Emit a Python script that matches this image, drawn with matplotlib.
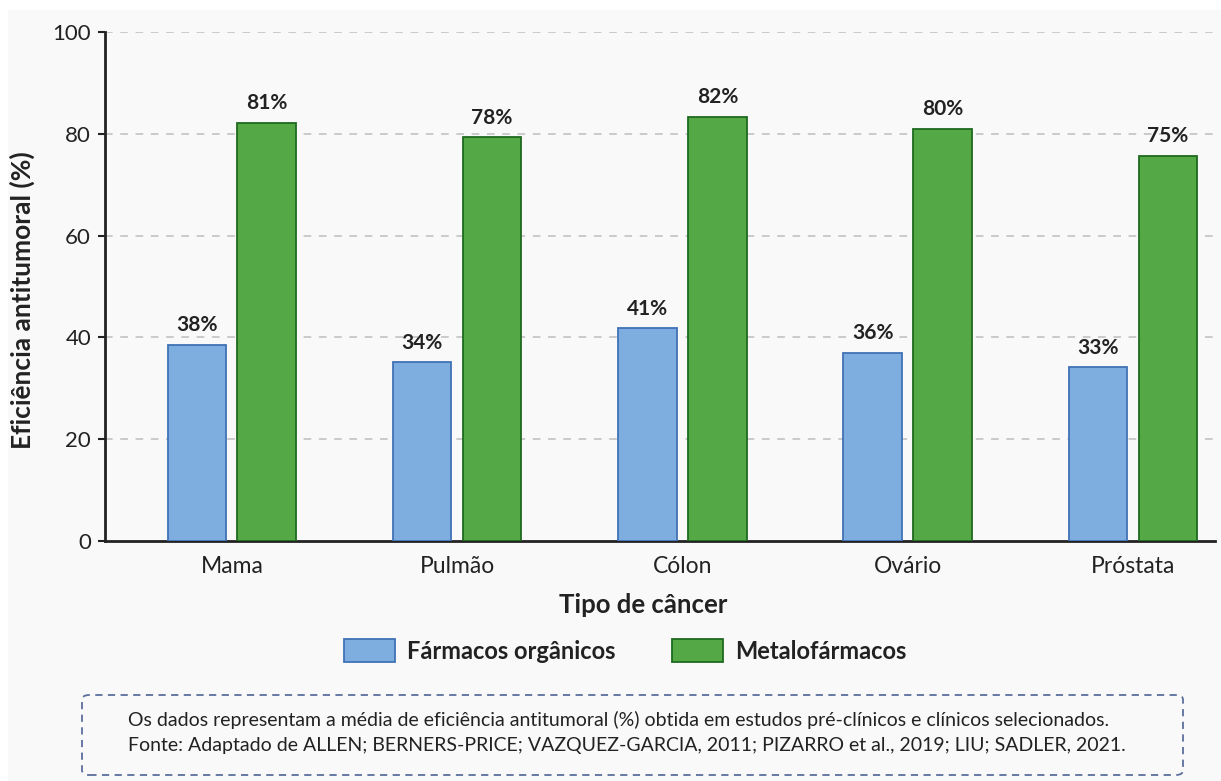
import numpy as np
import matplotlib.pyplot as plt
from matplotlib.patches import Patch, FancyBboxPatch, Rectangle

# Dados (alturas lidas das barras; rótulos como aparecem no gráfico)
tipos = ["Mama", "Pulmão", "Cólon", "Ovário", "Próstata"]
organicos = [38.5, 35.1, 41.8, 36.9, 34.1]
metalofarmacos = [82.1, 79.3, 83.3, 80.9, 75.6]
rotulos_org = ["38%", "34%", "41%", "36%", "33%"]
rotulos_met = ["81%", "78%", "82%", "80%", "75%"]
serie_nomes = ["Fármacos orgânicos", "Metalofármacos"]
y_ticks = [0, 20, 40, 60, 80, 100]
nota = ["Os dados representam a média de eficiência antitumoral (%) obtida em estudos pré-clínicos e clínicos selecionados.",
        "Fonte: Adaptado de ALLEN; BERNERS-PRICE; VAZQUEZ-GARCIA, 2011; PIZARRO et al., 2019; LIU; SADLER, 2021."]

plt.rcParams['font.family'] = ['Lato', 'DejaVu Sans']

azul, azul_borda = '#7eaee0', '#3f72b5'
verde, verde_borda = '#55a846', '#1f6a1f'
fundo = '#f9f9f9'

fig = plt.figure(figsize=(12.21, 7.81), dpi=100, facecolor='white')
fig.patches.append(Rectangle((8/1221, 0), 1, 1 - 10/781, transform=fig.transFigure,
                             facecolor=fundo, edgecolor='none', zorder=-10))
ax = fig.add_axes([105/1221, 1 - 541/781, 1110/1221, 509/781])
ax.set_facecolor(fundo)

x = np.arange(len(tipos))
w = 0.26
off = 0.155
b1 = ax.bar(x - off, organicos, w, color=azul, edgecolor=azul_borda, linewidth=1.3, zorder=3)
b2 = ax.bar(x + off, metalofarmacos, w, color=verde, edgecolor=verde_borda, linewidth=1.3, zorder=3)

for barras, rots in ((b1, rotulos_org), (b2, rotulos_met)):
    for b, r in zip(barras, rots):
        ax.annotate(r, (b.get_x() + b.get_width()/2, b.get_height()),
                    xytext=(0, 7), textcoords='offset points', ha='center', va='bottom',
                    fontsize=15, fontweight='bold', color='#222222', zorder=4)

ax.set_ylim(0, 100)
ax.set_xlim(-0.563, 4.364)
ax.set_yticks(y_ticks)
ax.set_xticks(x)
ax.set_xticklabels(tipos)
ax.tick_params(axis='y', labelsize=16, length=5, width=1.5, color='#222222', pad=5)
ax.tick_params(axis='x', labelsize=16.5, length=0, pad=11)
for t in ax.get_xticklabels() + ax.get_yticklabels():
    t.set_color('#222222')

for yv in y_ticks[1:]:
    ax.axhline(yv, color='#bdbdbd', linestyle=(0, (5, 5)), linewidth=1.1, zorder=1)

for s in ['top', 'right']:
    ax.spines[s].set_visible(False)
for s in ['left', 'bottom']:
    ax.spines[s].set_linewidth(2)
    ax.spines[s].set_color('#222222')

ax.set_ylabel("Eficiência antitumoral (%)", fontsize=19, fontweight='bold', color='#222222')
ax.yaxis.set_label_coords(-70/1110, 241/509)
ax.set_xlabel("Tipo de câncer", fontsize=18.5, fontweight='bold', color='#222222')
ax.xaxis.set_label_coords((643 - 105)/1110, -52/509)

handles = [Patch(facecolor=azul, edgecolor=azul_borda, linewidth=1.3),
           Patch(facecolor=verde, edgecolor=verde_borda, linewidth=1.3)]
leg = fig.legend(handles, serie_nomes, loc='center', bbox_to_anchor=(625/1221, 1 - 651/781),
                 ncol=2, frameon=False, handlelength=2.16, handleheight=1.06,
                 handletextpad=0.5, columnspacing=2.4, prop={'size': 17, 'weight': 'bold'})
for t in leg.get_texts():
    t.set_color('#222222')

caixa = FancyBboxPatch((82/1221, 1 - 775/781), (1183 - 82)/1221, 80/781,
                       boxstyle='round,pad=0,rounding_size=0.006', transform=fig.transFigure,
                       facecolor='none', edgecolor='#5b6f9e', linestyle=(0, (4, 3)), linewidth=1.3)
fig.patches.append(caixa)
fig.text(128/1221, 1 - 720/781, nota[0], fontsize=14, color='#222222', va='center', ha='left')
fig.text(128/1221, 1 - 746/781, nota[1], fontsize=14, color='#222222', va='center', ha='left')

fig.savefig('out.png', dpi=100, facecolor='white')
